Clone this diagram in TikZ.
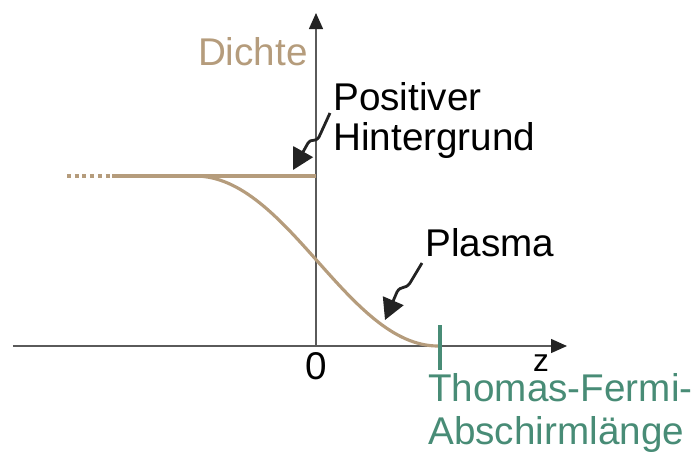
\documentclass[tikz,border=0pt]{standalone}
\usepackage{fontspec}
\setmainfont{Liberation Sans}
\usetikzlibrary{arrows.meta, positioning}
\definecolor{mytan}{RGB}{181,156,124}
\definecolor{mygreen}{RGB}{72,140,118}
\definecolor{myaxis}{RGB}{90,90,90}
\definecolor{mydark}{RGB}{35,35,35}
\tikzset{
  axis/.style={-{Triangle[length=0.32cm,width=0.28cm,color=mydark]}, line width=0.8pt, color=myaxis},
  density/.style={line width=1.8pt, color=mytan},
  squig/.style={-{Triangle[length=0.42cm,width=0.44cm]}, line width=1.6pt,
    color=mydark, line join=round},
  lbl/.style={font=\fontsize{22}{23}\selectfont, inner sep=0pt, align=left},
  tick/.style={line width=1.8pt, color=mygreen}
}

\begin{document}
\begin{tikzpicture}
  \useasboundingbox (0,0) rectangle (13.96,-9.02);
  % Axes
  \coordinate (O) at (6.32,-6.92);
  \coordinate (xstart) at (0.26,-6.92);
  \coordinate (xtip) at (11.34,-6.92);
  \coordinate (ytip) at (6.32,-0.26);
  \draw[axis] (xstart) -- (xtip);
  \draw[axis] (O) -- (ytip);
  \node[lbl, below=0.12cm of O] (zero) {0};
  \node[lbl, font=\fontsize{18}{20}\selectfont] (z) at (10.82,-7.26) {z};
  % Positive background
  \coordinate (bgdot) at (1.34,-3.52);
  \coordinate (bgstart) at (2.24,-3.52);
  \coordinate (bgend) at (6.32,-3.52);
  \draw[density, line cap=butt, dash pattern=on 2.2pt off 2.2pt] (bgdot) -- (bgstart);
  \draw[density] (bgstart) -- (bgend);
  % Plasma density
  \coordinate (pstart) at (3.9,-3.52);
  \coordinate (pend) at (8.76,-6.92);
  \draw[density] (pstart) .. controls (5.75,-3.52) and (6.95,-6.92) .. (pend);
  % Thomas-Fermi length
  \coordinate (ttop) at (8.8,-6.5);
  \coordinate (tbot) at (8.8,-7.4);
  \draw[tick] (ttop) -- (tbot);
  \node[lbl, color=mygreen, font=\fontsize{22}{24.5}\selectfont, anchor=north west]
    (tf) at (8.56,-7.46) {Thomas-Fermi-\\Abschirml\"ange};
  % Labels
  \node[lbl, color=mytan, anchor=east] (dichte) at (6.16,-1.04) {Dichte};
  \node[lbl, anchor=north west] (bg) at (6.66,-1.64) {Positiver\\Hintergrund};
  \node[lbl, anchor=north west] (plasma) at (8.5,-4.56) {Plasma};
  % Pointers
  \coordinate (b1) at (6.6,-2.26);
  \coordinate (b2) at (6.38,-2.74);
  \coordinate (b3) at (6.16,-2.86);
  \coordinate (btip) at (5.86,-3.40);
  \draw[squig] (b1) -- (b2) .. controls (6.3,-2.86) and (6.22,-2.76) .. (b3) -- (btip);
  \coordinate (p1) at (8.44,-5.26);
  \coordinate (p2) at (8.2,-5.66);
  \coordinate (p3) at (7.94,-5.84);
  \coordinate (ptip) at (7.70,-6.40);
  \draw[squig] (p1) -- (p2) .. controls (8.1,-5.80) and (8.02,-5.70) .. (p3) -- (ptip);
\end{tikzpicture}
\end{document}
